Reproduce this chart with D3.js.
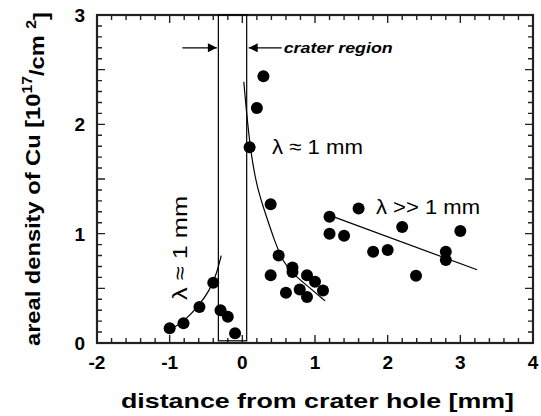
<!DOCTYPE html>
<html>
<head>
<meta charset="utf-8">
<script src="https://cdn.jsdelivr.net/npm/d3@7"></script>
</head>
<body style="margin:0; background:#fff">
<svg id="svg" width="541" height="416"></svg>
<script>
"use strict";

// measured points: [distance mm, areal density 1e17/cm2]
const leftPoints = [
	[-1.0, 0.134], [-0.81, 0.18], [-0.59, 0.33], [-0.4, 0.55],
	[-0.3, 0.3], [-0.2, 0.24], [-0.1, 0.09]
];
const nearPoints = [
	[0.1, 1.79], [0.2, 2.15], [0.29, 2.44], [0.39, 1.27],
	[0.5, 0.8], [0.39, 0.62], [0.69, 0.69], [0.69, 0.65],
	[0.89, 0.62], [1.0, 0.56], [1.11, 0.48], [0.79, 0.49],
	[0.6, 0.46], [0.89, 0.42]
];
const farPoints = [
	[1.2, 1.155], [1.2, 1.0], [1.4, 0.98], [1.6, 1.23],
	[1.8, 0.835], [2.0, 0.85], [2.2, 1.06], [2.39, 0.615],
	[2.8, 0.835], [2.8, 0.76], [3.0, 1.025]
];

// fitted curves
const leftFit = [[-0.97, 0.13], [-0.8, 0.2], [-0.6, 0.34], [-0.45, 0.48], [-0.35, 0.64], [-0.29, 0.8]];
const nearFit = [[0.02, 2.39], [0.1, 1.8], [0.2, 1.42], [0.33, 1.16], [0.44, 0.94], [0.56, 0.74], [0.7, 0.63], [0.9, 0.52], [1.14, 0.385]];
const farFit = [[1.23, 1.16], [3.23, 0.67]];

// crater region box [x0, x1, y0, y1]
const craterBox = [-0.33, 0.06, 0.02, 3];
const arrowY = 2.7;

const xTicks = [-2, -1, 0, 1, 2, 3, 4];
const yTicks = [0, 1, 2, 3];

const font = '"Liberation Sans", Arial, Helvetica, sans-serif';
const svg = d3.select("#svg").style("font-family", font);
const mLeft = 97, mRight = 533, mTop = 15, mBottom = 343;

const x = d3.scaleLinear().domain([-2, 4]).range([mLeft, mRight]);
const y = d3.scaleLinear().domain([0, 3]).range([mBottom, mTop]);

// tick sets
const xMinor = d3.range(-20, 41, 2).map((d) => d / 10).filter((d) => !Number.isInteger(d));
const yMid = [0.5, 1.5, 2.5];
const yMinor = d3.range(0, 31).map((d) => d / 10).filter((d) => !Number.isInteger(d) && !yMid.includes(d));

// frame
svg.append("rect")
	.attr("x", mLeft).attr("y", mTop)
	.attr("width", mRight - mLeft).attr("height", mBottom - mTop)
	.attr("fill", "none")
	.attr("stroke", "#222")
	.attr("stroke-width", 2.2);

// tick marks, pointing inward on all four sides
const tickPath = d3.path();
function addX(values, len) {
	values.forEach((d) => {
		const px = x(d);
		tickPath.moveTo(px, mBottom); tickPath.lineTo(px, mBottom - len);
		tickPath.moveTo(px, mTop); tickPath.lineTo(px, mTop + len);
	});
}
function addY(values, len) {
	values.forEach((d) => {
		const py = y(d);
		tickPath.moveTo(mLeft, py); tickPath.lineTo(mLeft + len, py);
		tickPath.moveTo(mRight, py); tickPath.lineTo(mRight - len, py);
	});
}
addX(xMinor, 5);
addX(xTicks, 8);
addY(yMinor, 5);
addY(yMid, 8);
addY(yTicks, 8);
svg.append("path")
	.attr("d", tickPath.toString())
	.attr("fill", "none")
	.attr("stroke", "#222")
	.attr("stroke-width", 1.4);

// tick labels
svg.append("g").selectAll("text")
	.data(xTicks).enter().append("text")
	.attr("x", (d) => x(d)).attr("y", mBottom + 26)
	.attr("text-anchor", "middle")
	.attr("font-size", "19px").attr("font-weight", "bold")
	.text((d) => String(d));
svg.append("g").selectAll("text")
	.data(yTicks).enter().append("text")
	.attr("x", mLeft - 12).attr("y", (d) => y(d) + 7)
	.attr("text-anchor", "end")
	.attr("font-size", "19px").attr("font-weight", "bold")
	.text((d) => String(d));

// crater region box
svg.append("rect")
	.attr("x", x(craterBox[0]))
	.attr("y", y(craterBox[3]))
	.attr("width", x(craterBox[1]) - x(craterBox[0]))
	.attr("height", y(craterBox[2]) - y(craterBox[3]))
	.attr("fill", "none").attr("stroke", "black").attr("stroke-width", 1.2);

// arrows
svg.append("defs").append("marker")
	.attr("id", "head")
	.attr("viewBox", "0 0 10 10")
	.attr("refX", 10).attr("refY", 5)
	.attr("markerWidth", 13).attr("markerHeight", 9)
	.attr("markerUnits", "userSpaceOnUse")
	.attr("orient", "auto")
	.append("path").attr("d", "M0,0L10,5L0,10Z").attr("fill", "black");

const ay = y(arrowY);
svg.append("line")
	.attr("x1", x(craterBox[0]) - 36).attr("x2", x(craterBox[0]) - 1.5)
	.attr("y1", ay).attr("y2", ay)
	.attr("stroke", "black").attr("stroke-width", 1.2)
	.attr("marker-end", "url(#head)");
svg.append("line")
	.attr("x1", x(craterBox[1]) + 35).attr("x2", x(craterBox[1]) + 2)
	.attr("y1", ay).attr("y2", ay)
	.attr("stroke", "black").attr("stroke-width", 1.2)
	.attr("marker-end", "url(#head)");
svg.append("text")
	.attr("x", x(craterBox[1]) + 37).attr("y", ay + 5)
	.attr("font-size", "15px").attr("font-style", "italic").attr("font-weight", "bold")
	.attr("textLength", 109).attr("lengthAdjust", "spacingAndGlyphs")
	.text("crater region");

// fit lines
const line = d3.line().x((d) => x(d[0])).y((d) => y(d[1])).curve(d3.curveBasis);
[leftFit, nearFit, farFit].forEach((fit) => {
	svg.append("path")
		.datum(fit)
		.attr("d", line)
		.attr("fill", "none")
		.attr("stroke", "black")
		.attr("stroke-width", 1.2);
});

// points
svg.append("g")
	.selectAll("circle")
	.data(leftPoints.concat(nearPoints, farPoints))
	.enter()
	.append("circle")
	.attr("cx", (d) => x(d[0]))
	.attr("cy", (d) => y(d[1]))
	.attr("r", 6)
	.attr("fill", "black");

// annotations
svg.append("text")
	.attr("x", 272).attr("y", 154)
	.attr("font-size", "21px")
	.attr("textLength", 91).attr("lengthAdjust", "spacingAndGlyphs")
	.text("λ ≈ 1 mm");
svg.append("text")
	.attr("x", 376).attr("y", 214)
	.attr("font-size", "21px")
	.attr("textLength", 104).attr("lengthAdjust", "spacingAndGlyphs")
	.text("λ >> 1 mm");
svg.append("text")
	.attr("transform", "translate(187,300) rotate(-90)")
	.attr("font-size", "21px")
	.attr("textLength", 104).attr("lengthAdjust", "spacingAndGlyphs")
	.text("λ ≈ 1 mm");

// axis titles
svg.append("text")
	.attr("x", 121).attr("y", 408)
	.attr("font-size", "21px").attr("font-weight", "bold")
	.attr("textLength", 393).attr("lengthAdjust", "spacingAndGlyphs")
	.text("distance from crater hole [mm]");

const yt = svg.append("text")
	.attr("transform", "translate(40,346) rotate(-90)")
	.attr("font-size", "21px").attr("font-weight", "bold")
	.attr("textLength", 334).attr("lengthAdjust", "spacingAndGlyphs");
yt.append("tspan").text("areal density of Cu [10");
yt.append("tspan").attr("dy", "-0.55em").attr("font-size", "14px").text("17");
yt.append("tspan").attr("dy", "0.55em").text("/cm ");
yt.append("tspan").attr("dy", "-0.55em").attr("font-size", "14px").text("2");
yt.append("tspan").attr("dy", "0.55em").text("]");
</script>
</body>
</html>
